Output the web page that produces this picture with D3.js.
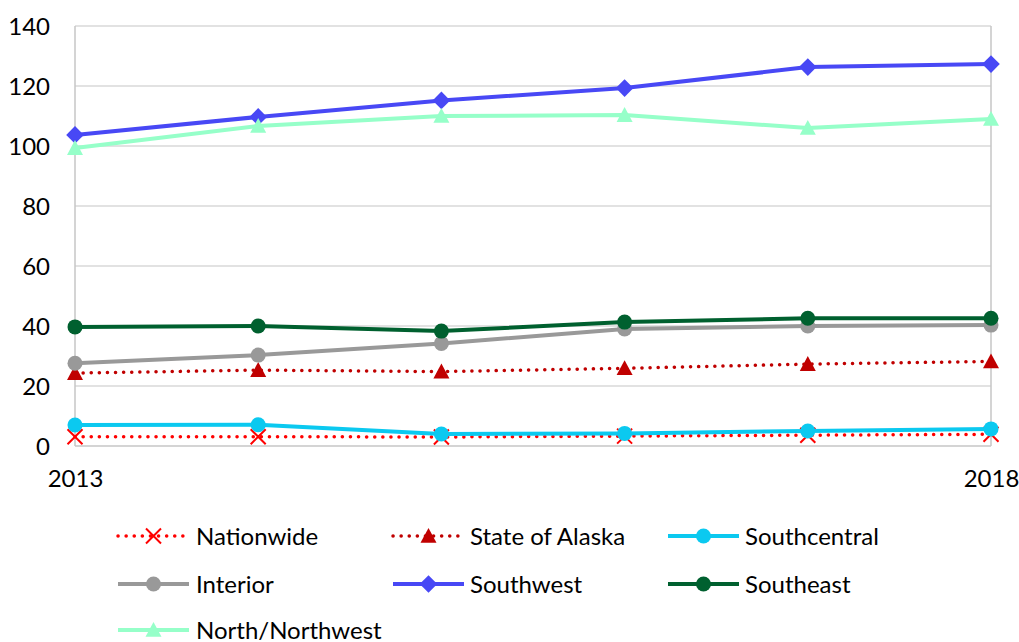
<!DOCTYPE html>
<html><head><meta charset="utf-8">
<script src="https://cdn.jsdelivr.net/npm/d3@7"></script>
<style>body{margin:0;background:#fff}svg{display:block}text{font-family:Lato,"Open Sans",sans-serif;fill:#000}</style>
</head><body><svg id="c" width="1019" height="642"></svg>
<script>
const years = [2013, 2014, 2015, 2016, 2017, 2018];
const yTicks = [0, 20, 40, 60, 80, 100, 120, 140];
const xTickLabels = [2013, 2018];
const seriesNames = ["Nationwide", "State of Alaska", "Southcentral", "Interior", "Southwest", "Southeast", "North/Northwest"];
const nationwide = [3.1, 3.1, 3.0, 3.3, 3.6, 3.9];
const stateOfAlaska = [24.3, 25.3, 24.8, 25.9, 27.3, 28.2];
const southcentral = [7.0, 7.1, 4.0, 4.2, 5.0, 5.7];
const interior = [27.6, 30.3, 34.2, 39.0, 40.0, 40.3];
const southwest = [103.7, 109.7, 115.2, 119.3, 126.3, 127.3];
const southeast = [39.7, 40.0, 38.3, 41.3, 42.6, 42.6];
const northNorthwest = [99.3, 106.7, 110.0, 110.3, 106.0, 109.0];

const styles = [
  {color:"#FF0000", dotted:true, marker:"x"},
  {color:"#C00000", dotted:true, marker:"tri"},
  {color:"#0BC9F0", dotted:false, marker:"circle"},
  {color:"#999999", dotted:false, marker:"circle"},
  {color:"#4848F5", dotted:false, marker:"diamond"},
  {color:"#00602F", dotted:false, marker:"circle"},
  {color:"#96FFC9", dotted:false, marker:"tri"}
];
const values = [nationwide, stateOfAlaska, southcentral, interior, southwest, southeast, northNorthwest];

const svg = d3.select("#c");
const L = 75, R = 991, T = 26, B = 446;
const x = d3.scaleLinear().domain([2013, 2018]).range([L, R]);
const y = d3.scaleLinear().domain([0, 140]).range([B, T]);

svg.append("g").selectAll("line").data(yTicks.filter(d=>d>0)).join("line")
  .attr("x1", L).attr("x2", R).attr("y1", d=>y(d)).attr("y2", d=>y(d))
  .attr("stroke", "#D9D9D9").attr("stroke-width", 1.3);
svg.append("line").attr("x1",L).attr("x2",L).attr("y1",T).attr("y2",B).attr("stroke","#C6C6C6").attr("stroke-width",1.5);
svg.append("line").attr("x1",R).attr("x2",R).attr("y1",T).attr("y2",B).attr("stroke","#C6C6C6").attr("stroke-width",1.5);
svg.append("line").attr("x1",L).attr("x2",R).attr("y1",B).attr("y2",B).attr("stroke","#C6C6C6").attr("stroke-width",1.5);

const yAxis = d3.axisLeft(y).tickValues(yTicks).tickSize(0).tickPadding(25);
const ya = svg.append("g").attr("transform",`translate(${L},0)`).call(yAxis);
ya.select(".domain").remove();
ya.selectAll("text").attr("font-size", 24).attr("font-family","Lato,sans-serif").attr("fill","#000").attr("dy","0.35em");

const xAxis = d3.axisBottom(x).tickValues(xTickLabels).tickFormat(d3.format("d")).tickSize(0).tickPadding(24);
const xa = svg.append("g").attr("transform",`translate(0,${B})`).call(xAxis);
xa.select(".domain").remove();
xa.selectAll("text").attr("font-size", 24).attr("font-family","Lato,sans-serif").attr("fill","#000");

function drawMarker(g, type, color, cx, cy) {
  if (type === "circle") {
    g.append("circle").attr("cx",cx).attr("cy",cy).attr("r",7.5).attr("fill",color);
  } else if (type === "diamond") {
    const s = 8.8;
    g.append("path").attr("d",`M${cx},${cy-s}L${cx+s},${cy}L${cx},${cy+s}L${cx-s},${cy}Z`).attr("fill",color);
  } else if (type === "tri") {
    const s = 8;
    g.append("path").attr("d",`M${cx},${cy-s}L${cx+s},${cy+s*0.85}L${cx-s},${cy+s*0.85}Z`).attr("fill",color);
  } else if (type === "x") {
    const s = 7.5;
    g.append("path").attr("d",`M${cx-s},${cy-s}L${cx+s},${cy+s}M${cx-s},${cy+s}L${cx+s},${cy-s}`)
      .attr("stroke",color).attr("stroke-width",2).attr("fill","none");
  }
}

const line = d3.line().x((d,i)=>x(years[i])).y(d=>y(d));
values.forEach((vals, si) => {
  const st = styles[si];
  const g = svg.append("g");
  const p = g.append("path").attr("d", line(vals)).attr("fill","none").attr("stroke", st.color);
  if (st.dotted) p.attr("stroke-width",3.5).attr("stroke-dasharray","0.1 8").attr("stroke-linecap","round");
  else p.attr("stroke-width",4).attr("stroke-linejoin","round");
  vals.forEach((v,i)=> drawMarker(g, st.marker, st.color, x(years[i]), y(v)));
});

const legCols = [118, 393, 668];
const legTextX = [196, 470, 745];
const legRows = [536, 584, 630];
seriesNames.forEach((name, i) => {
  const st = styles[i];
  const c = i % 3;
  const cx0 = legCols[c], cy = legRows[Math.floor(i/3)];
  const g = svg.append("g");
  const p = g.append("line").attr("x1",cx0).attr("x2",cx0+71).attr("y1",cy).attr("y2",cy).attr("stroke",st.color);
  if (st.dotted) p.attr("stroke-width",3.5).attr("stroke-dasharray","0.1 8").attr("stroke-linecap","round");
  else p.attr("stroke-width",4);
  drawMarker(g, st.marker, st.color, cx0+35.5, cy);
  g.append("text").attr("x", legTextX[c]).attr("y", cy).attr("dy","0.36em").attr("font-size",24).text(name);
});
</script></body></html>
